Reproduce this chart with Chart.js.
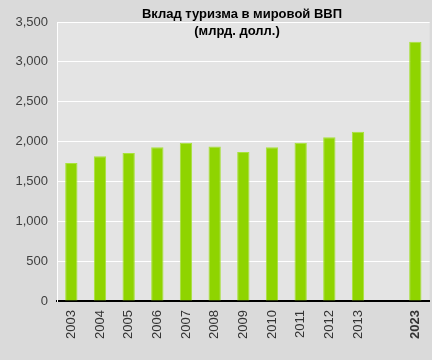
<!DOCTYPE html>
<html><head><meta charset="utf-8">
<script src="https://cdn.jsdelivr.net/npm/chart.js@4"></script>
<style>html,body{margin:0;padding:0;background:#dadada;}#wrap{width:432px;height:360px;}</style>
</head><body><div id="wrap"><canvas id="c" width="432" height="360"></canvas></div>
<script>
const categories = ['2003','2004','2005','2006','2007','2008','2009','2010','2011','2012','2013','','2023'];
const values = [1732,1815,1858,1928,1984,1937,1870,1928,1984,2054,2122,null,3251];
const yTicks = [0,500,1000,1500,2000,2500,3000,3500];
const titleLines = ['Вклад туризма в мировой ВВП','(млрд. долл.)'];

const bgPlugin = {
  id:'bg',
  beforeDraw(chart){
    const {ctx, chartArea:a} = chart;
    ctx.save();
    ctx.fillStyle='#dadada';
    ctx.fillRect(0,0,chart.width,chart.height);
    ctx.fillStyle='#e4e4e4';
    ctx.fillRect(a.left,a.top,a.right-a.left,a.bottom-a.top);
    ctx.restore();
  },
  afterDraw(chart){
    const {ctx} = chart;
    ctx.save();
    ctx.fillStyle='#000';
    ctx.font='bold 13px "Liberation Sans", Arial, sans-serif';
    ctx.textAlign='center';
    ctx.textBaseline='middle';
    ctx.fillText(titleLines[0], 242, 14);
    ctx.fillText(titleLines[1], 237, 31);
    ctx.restore();
  }
};

new Chart(document.getElementById('c'), {
  type:'bar',
  data:{labels:categories, datasets:[{data:values, backgroundColor:'#8fd400', borderColor:'#a8e23a', borderWidth:1, categoryPercentage:1, barPercentage:0.43}]},
  options:{
    responsive:false, animation:false,
    layout:{padding:{left:0,right:2,top:22,bottom:0}},
    plugins:{legend:{display:false}, tooltip:{enabled:false}},
    scales:{
      x:{
        grid:{display:false},
        border:{color:'#000',width:2},
        ticks:{minRotation:90,maxRotation:90,padding:1,color:'#333',
          font:(c)=>({family:'"Liberation Sans", Arial, sans-serif',size:13,weight: c.tick && c.tick.label==='2023' ? 'bold':'normal'})},
        afterFit(s){s.height=59;}
      },
      y:{
        min:0,max:3500,
        afterBuildTicks(s){s.ticks=yTicks.map(v=>({value:v}));},
        grid:{color:'#ffffff',lineWidth:1,drawTicks:false},
        border:{color:'#ffffff',width:1},
        ticks:{padding:9,color:'#404040',font:{family:'"Liberation Sans", Arial, sans-serif',size:13},
          callback:(v)=>v.toLocaleString('en-US')},
        afterFit(s){s.width=57;}
      }
    }
  },
  plugins:[bgPlugin]
});
</script></body></html>
